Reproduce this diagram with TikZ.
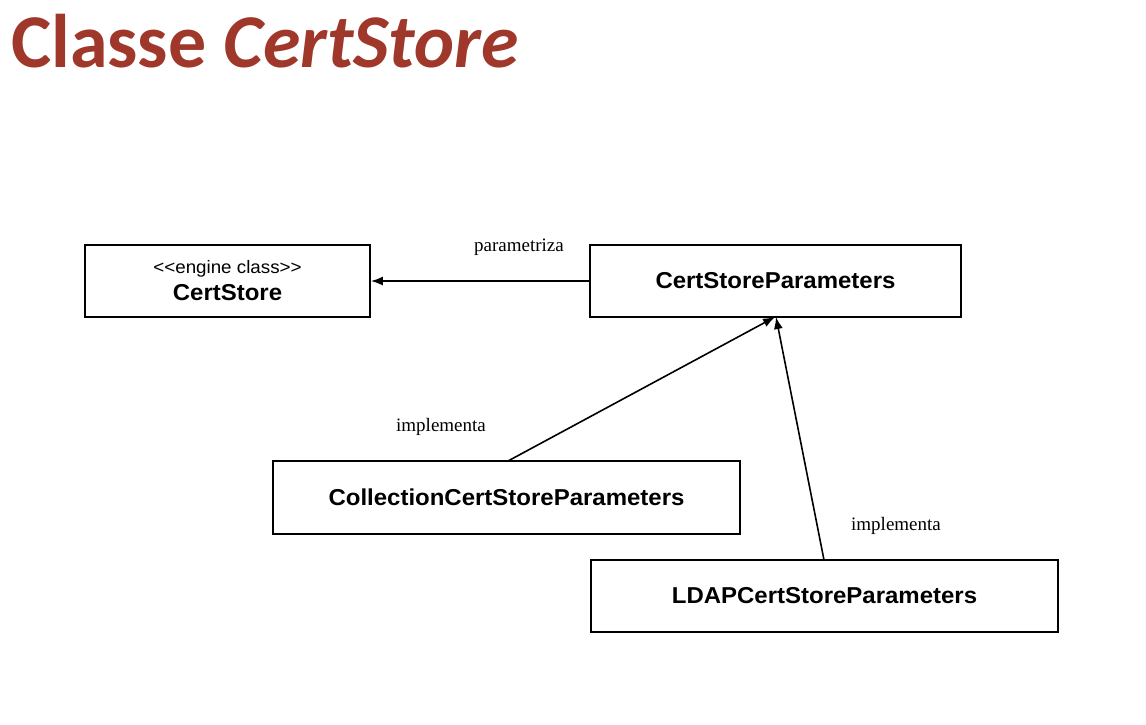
\documentclass[tikz,border=0pt]{standalone}
\usepackage{fontspec}
\setmainfont{Liberation Serif}
\newfontfamily\arialf[FakeStretch=1.043]{Liberation Sans}
\newfontfamily\calif{Carlito}
\usetikzlibrary{arrows.meta}
\definecolor{titlered}{RGB}{159,56,43}
\tikzset{
  classbox/.style={draw=black, line width=1.8pt, fill=white, inner sep=0pt, align=center, font=\arialf\bfseries\fontsize{23}{27}\selectfont},
  rel/.style={line width=1.6pt, -{Latex[length=12pt,width=9pt]}},
  rellabel/.style={font=\fontsize{19}{22}\selectfont, inner sep=0pt}
}
\begin{document}
\begin{tikzpicture}[x=1pt,y=-1pt]
\useasboundingbox[fill=white] (0,0) rectangle (1146,724);
\node[anchor=base west, inner sep=0pt, text=titlered, font=\calif\bfseries\fontsize{76}{80}\selectfont] (title) at (11,67) {Classe \textit{CertStore}};

\node[classbox, minimum width=285pt, minimum height=72pt] (cs) at (227.5,281)
  {{\mdseries\fontsize{18}{20}\selectfont <{}<engine class>{}>}\\[0pt]CertStore};
\node[classbox, minimum width=371pt, minimum height=72pt] (csp) at (775.5,281) {CertStoreParameters};
\node[classbox, minimum width=467pt, minimum height=73pt] (ccsp) at (506.5,497.5) {CollectionCertStoreParameters};
\node[classbox, minimum width=467pt, minimum height=72pt] (lcsp) at (824.5,596) {LDAPCertStoreParameters};

\coordinate (cspa) at (775,317);
\coordinate (cspb) at (776,317);
\coordinate (ccspt) at (508,461);
\coordinate (lcspt) at (824,560);

\draw[rel] (csp.west) -- (cs.east);
\draw[rel] (ccspt) -- (cspa);
\draw[rel] (lcspt) -- (cspb);

\node[rellabel] (l1) at (519,247) {parametriza};
\node[rellabel] (l2) at (441,427) {implementa};
\node[rellabel] (l3) at (896,526) {implementa};
\end{tikzpicture}
\end{document}
